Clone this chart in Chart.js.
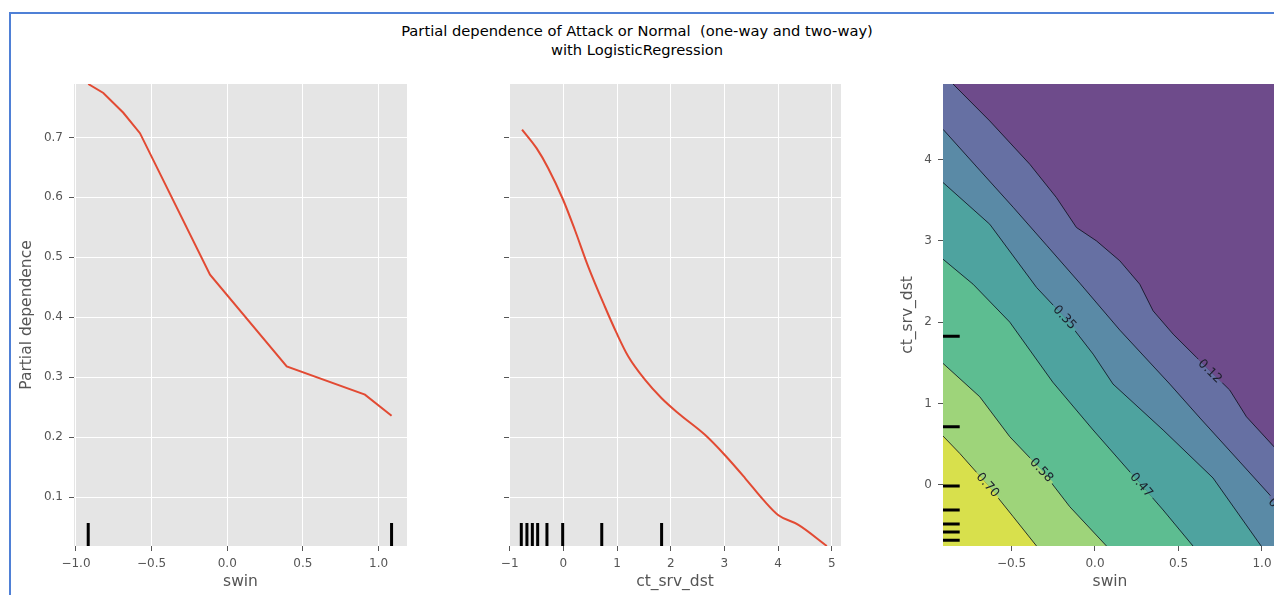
<!DOCTYPE html>
<html>
<head>
<meta charset="utf-8">
<script src="https://cdn.jsdelivr.net/npm/chart.js@4.4.1/dist/chart.umd.min.js"></script>
<style>
  html, body { margin: 0; padding: 0; width: 1274px; height: 595px; overflow: hidden; background: #fff; }
  #frame { position: absolute; left: 9px; top: 12px; width: 1300px; height: 600px;
           border-top: 2px solid #4f80d6; border-left: 2px solid #4f80d6; }
  #title { position: absolute; left: 0; top: 22px; width: 1274px; text-align: center;
           font-family: "DejaVu Sans", sans-serif; font-size: 14.7px; line-height: 18.5px;
           color: #000; white-space: pre; }
  canvas { position: absolute; }
</style>
</head>
<body>
<div id="frame"></div>
<div id="title">Partial dependence of Attack or Normal  (one-way and two-way)
with LogisticRegression</div>
<canvas id="pd1" width="420" height="535" style="left:10px;top:60px"></canvas>
<canvas id="pd2" width="430" height="535" style="left:440px;top:60px"></canvas>
<canvas id="pd3" width="410" height="535" style="left:880px;top:60px"></canvas>
<script>
// one-way partial dependence, swin
const swinGrid = [-0.919, -0.819, -0.687, -0.577, -0.114, 0.393, 0.910, 1.086];
const swinPD = [0.789, 0.774, 0.741, 0.707, 0.471, 0.318, 0.271, 0.236];
// one-way partial dependence, ct_srv_dst
const ctGrid = [-0.77, -0.50, -0.285, -0.005, 0.213, 0.461, 0.772, 0.990, 1.207, 1.519,
                1.830, 2.140, 2.638, 3.011, 3.384, 3.726, 4.006, 4.379, 4.908];
const ctPD = [0.713, 0.682, 0.649, 0.596, 0.546, 0.485, 0.418, 0.374, 0.335, 0.296,
              0.265, 0.240, 0.204, 0.170, 0.132, 0.0955, 0.070, 0.054, 0.0187];
// deciles (rug marks)
const swinDeciles = [-0.919, 1.086];
const ctDeciles = [-0.784, -0.679, -0.578, -0.479, -0.306, -0.013, 0.715, 1.83];

// tick values
const pdTicks = [0.1, 0.2, 0.3, 0.4, 0.5, 0.6, 0.7];
const swinTicks = [-1.0, -0.5, 0.0, 0.5, 1.0];
const ctTicks = [-1, 0, 1, 2, 3, 4, 5];
const swin2dTicks = [-0.5, 0.0, 0.5, 1.0];
const ct2dTicks = [0, 1, 2, 3, 4];

// two-way contour: levels and the iso-lines [swin, ct_srv_dst]
const levels = [0.12, 0.23, 0.35, 0.47, 0.58, 0.70];
const contour012 = [[-0.850, 4.93], [-0.630, 4.476], [-0.390, 3.943], [-0.231, 3.534], [-0.111, 3.166],
                    [0.009, 3.001], [0.149, 2.756], [0.268, 2.469], [0.348, 2.141], [0.468, 1.855],
                    [0.608, 1.569], [0.807, 1.167], [0.907, 0.839], [1.09, 0.43]];
const contour023 = [[-0.910, 4.373], [-0.690, 3.870], [-0.490, 3.415], [-0.290, 2.948], [-0.091, 2.482],
                    [0.149, 1.904], [0.448, 1.241], [0.629, 0.823], [0.868, 0.283], [1.09, -0.22]];
const contour035 = [[-0.910, 3.719], [-0.630, 3.206], [-0.350, 2.429], [-0.181, 2.060], [-0.011, 1.609],
                    [0.108, 1.241], [0.408, 0.676], [0.707, 0.086], [0.995, -0.75]];
const contour047 = [[-0.910, 2.776], [-0.730, 2.469], [-0.510, 2.002], [-0.253, 1.265], [-0.011, 0.676],
                    [0.278, 0.0], [0.408, -0.307], [0.587, -0.75]];
const contour058 = [[-0.910, 1.495], [-0.690, 1.085], [-0.510, 0.593], [-0.320, 0.184], [-0.151, -0.267],
                    [0.069, -0.75]];
const contour070 = [[-0.910, 0.602], [-0.810, 0.389], [-0.642, 0.0], [-0.490, -0.389], [-0.350, -0.75]];
const contourLines = [contour012, contour023, contour035, contour047, contour058, contour070];
const labelPos = [[0.689, 1.400], [1.107, -0.307], [-0.181, 2.060], [0.278, 0.0], [-0.320, 0.184], [-0.642, 0.0]];
// band colours, lowest band first
const bandColors = ['#6e4b8b', '#6670a3', '#5a8aa6', '#4ea39f', '#5dbd91', '#9ed47a', '#d8e04c'];

const GREY = '#555555';
const tickFont = { family: 'DejaVu Sans', size: 12 };
const titleFont = { family: 'DejaVu Sans', size: 15.5 };

const fmt1 = v => (v < 0 ? '\u2212' : '') + Math.abs(v).toFixed(1);
const fmt0 = v => (v < 0 ? '\u2212' : '') + Math.abs(v).toFixed(0);

function makeAxis(o) {
    return {
        type: 'linear',
        min: o.min,
        max: o.max,
        afterBuildTicks: s => { s.ticks = o.ticks.map(v => ({ value: v })); },
        afterFit: s => { if (s.isHorizontal()) s.height = o.size; else s.width = o.size; },
        grid: { color: '#ffffff', lineWidth: 1, drawOnChartArea: o.grid !== false,
                tickColor: GREY, tickLength: 5 },
        border: { display: false },
        ticks: { color: GREY, font: tickFont, padding: 6, maxRotation: 0, autoSkip: false,
                 callback: v => o.fmt ? o.fmt(v) : '' },
        title: o.title ? { display: true, text: o.title, color: GREY, font: titleFont, padding: o.pad }
                       : { display: false }
    };
}

// grey (or filled) plot area
const panelBg = {
    id: 'panelBg',
    beforeDraw(chart, args, opts) {
        const a = chart.chartArea, ctx = chart.ctx;
        ctx.save();
        ctx.fillStyle = opts.color;
        ctx.fillRect(a.left, a.top, a.right - a.left, a.bottom - a.top);
        ctx.restore();
    }
};

// inline labels on the contour lines (line is blanked under the text)
const contourLabels = {
    id: 'contourLabels',
    afterDatasetsDraw(chart) {
        const { ctx, chartArea: a, scales: { x, y } } = chart;
        ctx.save();
        ctx.beginPath();
        ctx.rect(a.left, a.top, a.right - a.left, a.bottom - a.top);
        ctx.clip();
        ctx.font = '12.5px "DejaVu Sans"';
        ctx.textAlign = 'center';
        ctx.textBaseline = 'middle';
        levels.forEach((lv, i) => {
            const [lx, ly] = labelPos[i];
            const line = contourLines[i];
            let k = 0;
            while (k < line.length - 2 && line[k + 1][0] < lx) k++;
            const ang = Math.atan2(
                y.getPixelForValue(line[k + 1][1]) - y.getPixelForValue(line[k][1]),
                x.getPixelForValue(line[k + 1][0]) - x.getPixelForValue(line[k][0]));
            const txt = lv.toFixed(2);
            const w = ctx.measureText(txt).width + 6;
            ctx.save();
            ctx.translate(x.getPixelForValue(lx), y.getPixelForValue(ly));
            ctx.rotate(ang);
            ctx.fillStyle = bandColors[i];
            ctx.fillRect(-w / 2, -4, w, 4);
            ctx.fillStyle = bandColors[i + 1];
            ctx.fillRect(-w / 2, 0, w, 4);
            ctx.fillStyle = '#1b1f2b';
            ctx.fillText(txt, 0, 0.5);
            ctx.restore();
        });
        ctx.restore();
    }
};

function rugV(deciles, y0, y1) {
    const pts = [];
    deciles.forEach(d => pts.push({ x: d, y: y0 }, { x: d, y: y1 }, { x: d, y: null }));
    return pts;
}
function rugH(deciles, x0, x1) {
    const pts = [];
    deciles.forEach(d => pts.push({ x: x0, y: d }, { x: x1, y: d }, { x: x0, y: null }));
    return pts;
}

const pdMin = Math.min(...swinPD, ...ctPD);
const pdMax = Math.max(...swinPD, ...ctPD);
const rugTop = pdMin + 0.05 * (pdMax - pdMin);

const baseOptions = (padRight, bg) => ({
    responsive: false,
    animation: false,
    layout: { padding: { top: 24, right: padRight, left: 0, bottom: 0 } },
    plugins: { legend: { display: false }, tooltip: { enabled: false }, panelBg: { color: bg } }
});

// panel 1: swin
const opt1 = baseOptions(23, '#E5E5E5');
opt1.scales = {
    x: makeAxis({ min: -1.013, max: 1.188, ticks: swinTicks, fmt: fmt1, size: 49, title: 'swin', pad: { top: 0, bottom: 4 } }),
    y: makeAxis({ min: pdMin, max: pdMax, ticks: pdTicks, fmt: fmt1, size: 64, title: 'Partial dependence', pad: { top: 8, bottom: 0 } })
};
new Chart(document.getElementById('pd1'), {
    type: 'line',
    data: {
        datasets: [
            { data: rugV(swinDeciles, pdMin, rugTop), borderColor: '#000', borderWidth: 3, pointRadius: 0 },
            { data: swinGrid.map((x, i) => ({ x, y: swinPD[i] })), borderColor: '#E24A33', borderWidth: 2, pointRadius: 0 }
        ]
    },
    options: opt1,
    plugins: [panelBg]
});

// panel 2: ct_srv_dst
const opt2 = baseOptions(29, '#E5E5E5');
opt2.scales = {
    x: makeAxis({ min: -1.013, max: 5.172, ticks: ctTicks, fmt: fmt0, size: 49, title: 'ct_srv_dst', pad: { top: 0, bottom: 4 } }),
    y: makeAxis({ min: pdMin, max: pdMax, ticks: pdTicks, fmt: null, size: 69 })
};
new Chart(document.getElementById('pd2'), {
    type: 'line',
    data: {
        datasets: [
            { data: rugV(ctDeciles, pdMin, rugTop), borderColor: '#000', borderWidth: 3, pointRadius: 0 },
            { data: ctGrid.map((x, i) => ({ x, y: ctPD[i] })), borderColor: '#E24A33', borderWidth: 2,
              pointRadius: 0, cubicInterpolationMode: 'monotone' }
        ]
    },
    options: opt2,
    plugins: [panelBg]
});

// panel 3: two-way contour
const cx0 = -0.91, cx1 = 1.09, cy0 = -0.75, cy1 = 4.93;
// each level: a stroke dataset (the iso-line) and a fill dataset (band above it, extended to the frame)
function contourDatasets(line, i) {
    const pts = line.map(p => ({ x: p[0], y: p[1] }));
    const area = pts.slice();
    if (area[0].x > cx0 + 1e-6) area.unshift({ x: cx0, y: cy1 });
    if (area[area.length - 1].x < cx1 - 1e-6) area.push({ x: cx1, y: cy0 });
    return [
        { data: pts, borderColor: 'rgba(10,12,25,0.8)', borderWidth: 1, pointRadius: 0, fill: false },
        { data: area, borderWidth: 0, borderColor: 'rgba(0,0,0,0)', pointRadius: 0,
          fill: 'end', backgroundColor: bandColors[i] }
    ];
}
const opt3 = baseOptions(13, bandColors[6]);
opt3.scales = {
    x: makeAxis({ min: cx0, max: cx1, ticks: swin2dTicks, fmt: fmt1, size: 49, title: 'swin', pad: { top: 0, bottom: 4 }, grid: false }),
    y: makeAxis({ min: cy0, max: cy1, ticks: ct2dTicks, fmt: fmt0, size: 63, title: 'ct_srv_dst', pad: { top: 19, bottom: 0 }, grid: false })
};
new Chart(document.getElementById('pd3'), {
    type: 'line',
    data: {
        datasets: [
            { data: rugH(ctDeciles, cx0, cx0 + 0.05 * (cx1 - cx0)).concat(rugV(swinDeciles, cy0, cy0 + 0.05 * (cy1 - cy0))),
              borderColor: '#000', borderWidth: 3, pointRadius: 0 },
            ...contourLines.flatMap(contourDatasets)
        ]
    },
    options: opt3,
    plugins: [panelBg, contourLabels]
});
</script>
</body>
</html>
